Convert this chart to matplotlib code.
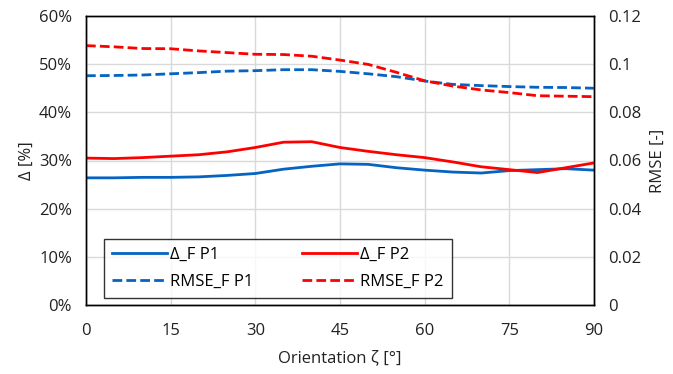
import matplotlib
matplotlib.use("Agg")
import matplotlib.pyplot as plt
from matplotlib.ticker import FuncFormatter

plt.rcParams['font.family'] = ['Open Sans', 'DejaVu Sans']

angles = [0, 5, 10, 15, 20, 25, 30, 35, 40, 45, 50, 55, 60, 65, 70, 75, 80, 85, 90]
delta_p1 = [26.4, 26.4, 26.5, 26.5, 26.6, 26.9, 27.3, 28.2, 28.8, 29.3, 29.2, 28.5, 28.0, 27.6, 27.4, 27.9, 28.1, 28.3, 28.0]
delta_p2 = [30.5, 30.4, 30.6, 30.9, 31.2, 31.8, 32.7, 33.8, 33.9, 32.7, 31.9, 31.2, 30.6, 29.7, 28.7, 28.1, 27.5, 28.5, 29.5]
rmse_p1 = [0.0952, 0.0953, 0.0955, 0.0960, 0.0965, 0.0971, 0.0973, 0.0977, 0.0977, 0.0970, 0.0960, 0.0948, 0.0930, 0.0916, 0.0911, 0.0907, 0.0904, 0.0903, 0.0900]
rmse_p2 = [0.1077, 0.1072, 0.1065, 0.1064, 0.1055, 0.1048, 0.1041, 0.1040, 0.1033, 0.1017, 0.0999, 0.0966, 0.0931, 0.0909, 0.0893, 0.0882, 0.0869, 0.0867, 0.0865]

x_ticks = [0, 15, 30, 45, 60, 75, 90]
y_ticks = [0, 10, 20, 30, 40, 50, 60]
y2_ticks = [0, 0.02, 0.04, 0.06, 0.08, 0.1, 0.12]
y2_labels = ['0', '0.02', '0.04', '0.06', '0.08', '0.1', '0.12']

blue = '#0563C1'
red = '#FF0000'
fs = 12

fig = plt.figure(figsize=(6.73, 3.74), dpi=100)
ax = fig.add_axes([86/673, 1-305/374, 508/673, 289/374])
ax2 = ax.twinx()

l1, = ax.plot(angles, delta_p1, color=blue, lw=2.0, label='Δ_F P1')
l2, = ax.plot(angles, delta_p2, color=red, lw=2.0, label='Δ_F P2')
l3, = ax2.plot(angles, rmse_p1, color=blue, lw=2.0, ls=(0, (3.5, 1.5)), label='RMSE_F P1')
l4, = ax2.plot(angles, rmse_p2, color=red, lw=2.0, ls=(0, (3.5, 1.5)), label='RMSE_F P2')

ax.set_xlim(0, 90)
ax.set_ylim(0, 60)
ax2.set_ylim(0, 0.12)
ax.set_xticks(x_ticks)
ax.set_yticks(y_ticks)
ax.yaxis.set_major_formatter(FuncFormatter(lambda v, p: f'{v:.0f}%'))
ax2.set_yticks(y2_ticks)
ax2.set_yticklabels(y2_labels)

ax.grid(True, color='#d9d9d9', lw=1.0)
ax.set_axisbelow(True)
for a in (ax, ax2):
    for s in a.spines.values():
        s.set_color('black')
        s.set_linewidth(1.0)
    a.tick_params(length=0, labelsize=fs, colors='#222222', pad=10)
ax.tick_params(axis='x', pad=13)

ax.set_xlabel('Orientation ζ [°]', fontsize=fs, color='#222222', labelpad=8)
ax.set_ylabel('Δ [%]', fontsize=fs, color='#222222', labelpad=3)
ax2.set_ylabel('RMSE [-]', fontsize=fs, color='#222222', labelpad=6)

leg = ax2.legend(handles=[l1, l3, l2, l4], loc='lower left', bbox_to_anchor=(0.035, 0.024),
                 ncol=2, fontsize=fs, frameon=True, fancybox=False, edgecolor='black',
                 handlelength=3.3, handletextpad=0.2, columnspacing=2.9, borderpad=0.5,
                 labelspacing=0.65, borderaxespad=0)
leg.get_frame().set_linewidth(1.0)

fig.savefig('out.png', dpi=100)
